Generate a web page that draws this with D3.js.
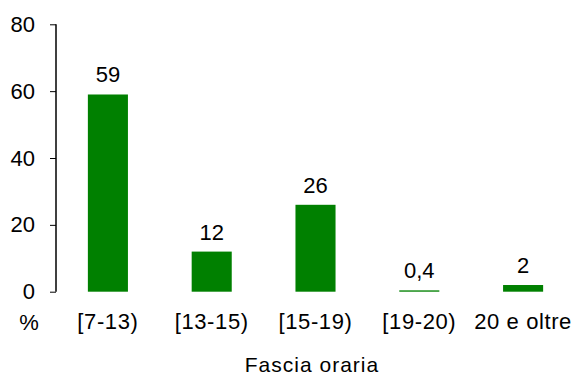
<!DOCTYPE html>
<html>
<head>
<meta charset="utf-8">
<script src="https://cdn.jsdelivr.net/npm/d3@7"></script>
<style>
  html, body { margin: 0; padding: 0; background: #fff; }
  svg { display: block; }
  text { font-family: "Liberation Sans", Arial, sans-serif; fill: #000; }
</style>
</head>
<body>
<svg id="chart" width="572" height="376"></svg>
<script>
const categories = ["[7-13)", "[13-15)", "[15-19)", "[19-20)", "20 e oltre"];
const values = [59, 12, 26, 0.4, 2];
const valueLabels = ["59", "12", "26", "0,4", "2"];
const yTicks = [0, 20, 40, 60, 80];
const yUnit = "%";
const xTitle = "Fascia oraria";

const svg = d3.select("#chart");
const x = d3.scaleBand().domain(categories).range([56, 575]).paddingInner(0.614).paddingOuter(0.307);
const y = d3.scaleLinear().domain([0, 80]).range([291.7, 24.3]);

// bars
svg.append("g").selectAll("rect").data(values).join("rect")
  .attr("x", (d, i) => x(categories[i]))
  .attr("width", x.bandwidth())
  .attr("y", d => y(d))
  .attr("height", d => y(0) - y(d))
  .attr("fill", "#008000");

// value labels
svg.append("g").selectAll("text").data(values).join("text")
  .attr("x", (d, i) => x(categories[i]) + x.bandwidth() / 2)
  .attr("y", d => y(d) - 12)
  .attr("text-anchor", "middle")
  .style("font-size", "22px")
  .text((d, i) => valueLabels[i]);

// y axis
const yAxis = d3.axisLeft(y).tickValues(yTicks).tickSize(6).tickPadding(15).tickFormat(d3.format("d"));
const gy = svg.append("g").attr("transform", "translate(56,0)").call(yAxis);
gy.select(".domain").attr("stroke", "#000").attr("stroke-width", 1.5).attr("d", `M0,${y(80)}V${y(0)}`);
gy.selectAll(".tick line").attr("stroke", "#000");
gy.selectAll(".tick text").style("font-size", "22px").style("font-family", "Liberation Sans, Arial, sans-serif");

// category labels
svg.append("g").selectAll("text").data(categories).join("text")
  .attr("x", d => x(d) + x.bandwidth() / 2)
  .attr("y", 329)
  .attr("text-anchor", "middle")
  .style("font-size", "22px")
  .style("letter-spacing", "0.6px")
  .text(d => d);

svg.append("text").attr("x", 29).attr("y", 330).attr("text-anchor", "middle")
  .style("font-size", "22px").text(yUnit);

svg.append("text").attr("x", 312).attr("y", 372).attr("text-anchor", "middle")
  .style("font-size", "21px").style("letter-spacing", "1px").text(xTitle);
</script>
</body>
</html>
